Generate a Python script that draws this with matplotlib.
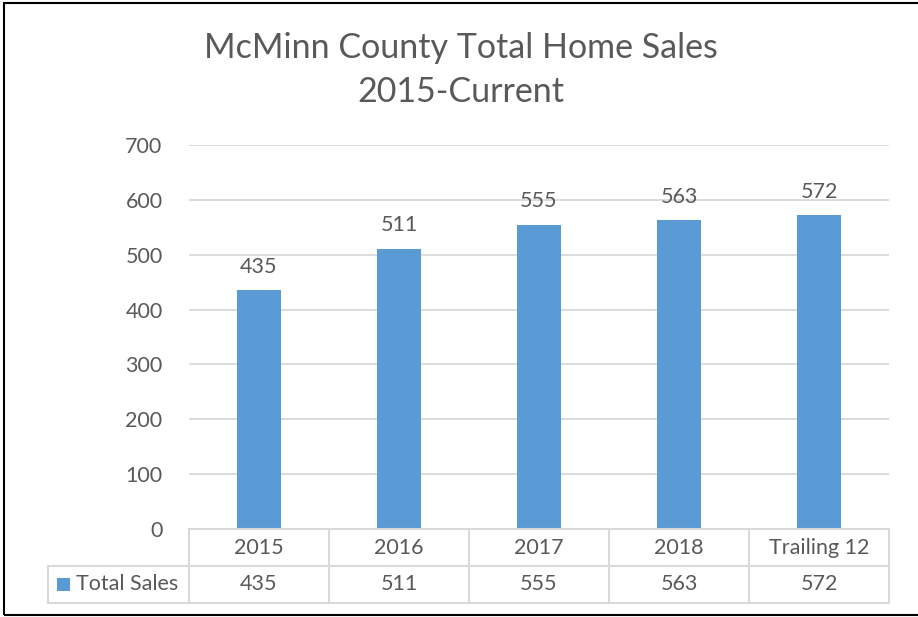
import numpy as np
import matplotlib
matplotlib.use("Agg")
import matplotlib.pyplot as plt
from matplotlib.patches import Rectangle
from matplotlib.transforms import blended_transform_factory

# data
categories = ["2015", "2016", "2017", "2018", "Trailing 12"]
total_sales = [435, 511, 555, 563, 572]
series_name = "Total Sales"
title = "McMinn County Total Home Sales\n2015-Current"

BAR = "#5B9BD5"
TXT = "#595959"
GRID = "#D9D9D9"
FS = 15.5

plt.rcParams["font.family"] = ["Lato", "DejaVu Sans"]

fig = plt.figure(figsize=(9.18, 6.17), dpi=100)
ax = fig.add_axes([189 / 918, 1 - 529 / 617, 700 / 918, 384 / 617])

x = np.arange(len(categories))
bars = ax.bar(x, total_sales, width=0.31, color=BAR, zorder=2)
for b, v in zip(bars, total_sales):
    ax.annotate(str(v), (b.get_x() + b.get_width() / 2, v), xytext=(0, 9.5),
                textcoords="offset points", ha="center", va="bottom",
                fontsize=FS, color=TXT)

ax.set_xlim(-0.5, len(categories) - 0.5)
ax.set_ylim(0, 700)
ax.set_yticks(range(0, 701, 100))
ax.tick_params(axis="y", length=0, pad=19, labelsize=FS, labelcolor=TXT)
ax.set_xticks([])
ax.yaxis.grid(True, color=GRID, linewidth=1.3, zorder=0)
for s in ax.spines.values():
    s.set_visible(False)

# data table below the axis
tr = blended_transform_factory(ax.transData, ax.transAxes)
rh = 37 / 384
left = -0.5 - 141 / 140
right = len(categories) - 0.5
lk = dict(color=GRID, linewidth=1.5, transform=tr, clip_on=False)
ax.plot([-0.5, right], [0, 0], **lk)
ax.plot([left, right], [-rh, -rh], **lk)
ax.plot([left, right], [-2 * rh, -2 * rh], **lk)
ax.plot([left, left], [-rh, -2 * rh], **lk)
for i in range(len(categories) + 1):
    ax.plot([i - 0.5, i - 0.5], [0, -2 * rh], **lk)
for i, (c, v) in enumerate(zip(categories, total_sales)):
    ax.text(i, -0.5 * rh, c, transform=tr, ha="center", va="center",
            fontsize=FS, color=TXT)
    ax.text(i, -1.5 * rh, str(v), transform=tr, ha="center", va="center",
            fontsize=FS, color=TXT)
ax.add_patch(Rectangle((left + 9 / 140, -1.5 * rh - 6.5 / 384), 13 / 140, 13 / 384,
                       facecolor=BAR, transform=tr, clip_on=False))
ax.text(left + 28 / 140, -1.5 * rh, series_name, transform=tr, ha="left",
        va="center", fontsize=FS, color=TXT)

fig.text(461 / 918, 1 - 70 / 617, title, ha="center", va="center",
         fontsize=24.5, color=TXT, linespacing=1.5)

# outer frame
fig.add_artist(Rectangle((3.5 / 918, 1 - 615 / 617), 1.0, 612.5 / 617,
                         transform=fig.transFigure, fill=False,
                         edgecolor="black", linewidth=1.5))

fig.savefig("out.png", dpi=100)
